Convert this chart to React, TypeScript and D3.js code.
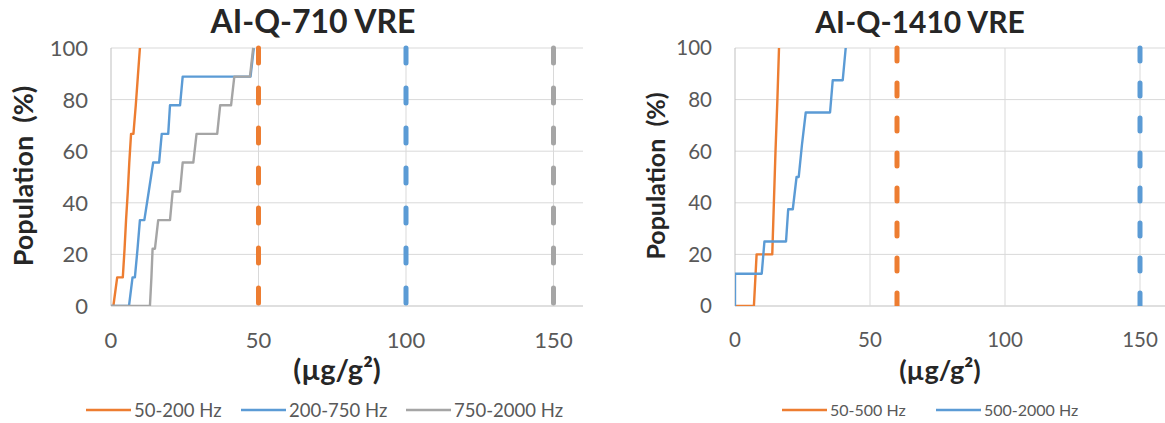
import React from 'react';
import * as d3 from 'd3';

// ---- data ----
const yTicks = [0, 20, 40, 60, 80, 100];
const xTicks = [0, 50, 100, 150];

// AI-Q-710 VRE
const leftTitle = 'AI-Q-710 VRE';
const leftSeriesNames = ['50-200 Hz', '200-750 Hz', '750-2000 Hz'];
const left50_200x = [0.8, 2.1, 4.0, 4.6, 5.1, 5.7, 6.2, 6.8, 7.6, 8.4, 9.1, 9.8];
const left50_200y = [0, 11.1, 11.1, 22.2, 33.3, 44.4, 55.6, 66.7, 66.7, 77.8, 88.9, 100];
const left200_750x = [0, 6.1, 7.3, 8.1, 9.0, 9.8, 11.3, 12.8, 14.3, 16.3, 17.2, 19.4, 20.0, 23.4, 24.3, 47.3, 48.4];
const left200_750y = [0, 0, 11.1, 11.1, 22.2, 33.3, 33.3, 44.4, 55.6, 55.6, 66.7, 66.7, 77.8, 77.8, 88.9, 88.9, 100];
const left750_2000x = [0, 13.2, 13.7, 14.1, 14.9, 16.0, 20.0, 20.9, 23.4, 24.3, 27.9, 29.0, 36.0, 37.0, 40.7, 41.8, 47.1, 48.2];
const left750_2000y = [0, 0, 11.1, 22.2, 22.2, 33.3, 33.3, 44.4, 44.4, 55.6, 55.6, 66.7, 66.7, 77.8, 77.8, 88.9, 88.9, 100];
const leftLimits = [50, 100, 150];

// AI-Q-1410 VRE
const rightTitle = 'AI-Q-1410 VRE';
const rightSeriesNames = ['50-500 Hz', '500-2000 Hz'];
const right50_500x = [0, 7.0, 8.0, 13.8, 14.4, 15.0, 15.7, 16.3];
const right50_500y = [0, 0, 20, 20, 40, 60, 80, 100];
const right500_2000x = [0, 0, 9.9, 10.9, 18.9, 19.7, 21.4, 22.8, 23.6, 24.8, 26.2, 35.2, 36.2, 39.9, 41.0];
const right500_2000y = [0, 12.5, 12.5, 25, 25, 37.5, 37.5, 50, 50, 62.5, 75, 75, 87.5, 87.5, 100];
const rightLimits = [60, 150];

const colors = ['#ED7D31', '#5B9BD5', '#A5A5A5'];
const FONT = 'Lato, "Open Sans", sans-serif';

type Pt = [number, number];
const zip = (xs: number[], ys: number[]): Pt[] => xs.map((x, i) => [x, ys[i]]);

interface PanelProps {
  title: string;
  names: string[];
  series: Pt[][];
  limits: number[];
  x0: number;
  x1: number;
  titleX: number;
  titleSize: number;
  tickSize: number;
  yLabelX: number;
  yLabelSize: number;
  xLabelX: number;
  xLabelSize: number;
  legendX: number[];
  legendSize: number;
  dash: string;
  dashFromTop: boolean;
}

function Panel(p: PanelProps) {
  const x = d3.scaleLinear().domain([0, 160]).range([p.x0, p.x1]);
  const y = d3.scaleLinear().domain([0, 100]).range([306, 48]);
  const line = d3.line<Pt>().x(d => x(d[0])).y(d => y(d[1]));
  const clipId = 'clip' + p.x0;

  return (
    <g>
      <defs>
        <clipPath id={clipId}>
          <rect x={p.x0} y={y(100) - 4} width={p.x1 - p.x0} height={y(0) - y(100) + 4} />
        </clipPath>
      </defs>
      <text x={p.titleX} y={33} textAnchor="middle" fontFamily={FONT} fontWeight={700}
        fontSize={p.titleSize} fill="#262626">{p.title}</text>

      {yTicks.map(t => (
        <line key={'h' + t} x1={p.x0} x2={p.x1} y1={y(t)} y2={y(t)}
          stroke={t === 0 ? '#BFBFBF' : '#D9D9D9'} strokeWidth={1} />
      ))}
      {xTicks.map(t => (
        <line key={'v' + t} x1={x(t)} x2={x(t)} y1={y(0)} y2={y(100)}
          stroke={t === 0 ? '#BFBFBF' : '#D9D9D9'} strokeWidth={1} />
      ))}

      {yTicks.map(t => (
        <text key={'yt' + t} x={p.x0 - 23} y={y(t)} dy="0.36em" textAnchor="end"
          fontFamily={FONT} fontSize={p.tickSize} fill="#595959">{t}</text>
      ))}
      {xTicks.map(t => (
        <text key={'xt' + t} x={x(t)} y={340} dy="0.36em" textAnchor="middle"
          fontFamily={FONT} fontSize={p.tickSize} fill="#595959">{t}</text>
      ))}

      <text transform={`translate(${p.yLabelX},176) rotate(-90)`} textAnchor="middle"
        dy="0.36em" fontFamily={FONT} fontWeight={700} fontSize={p.yLabelSize}
        fill="#262626" style={{ whiteSpace: 'pre' }}>{'Population  (%)'}</text>
      <text x={p.xLabelX} y={370} dy="0.36em" textAnchor="middle" fontFamily={FONT}
        fontWeight={700} fontSize={p.xLabelSize} fill="#262626">(µg/g²)</text>

      <g clipPath={`url(#${clipId})`}>
        {p.limits.map((v, i) => (
          <line key={'lim' + v}
            x1={x(v)} x2={x(v)}
            y1={p.dashFromTop ? y(100) : y(0)} y2={p.dashFromTop ? y(0) : y(100)}
            stroke={colors[i]} strokeWidth={5} strokeDasharray={p.dash} strokeLinecap="round" />
        ))}
        {p.series.map((s, i) => (
          <path key={'s' + i} d={line(s) || ''} fill="none" stroke={colors[i]}
            strokeWidth={2.4} strokeLinejoin="round" />
        ))}
      </g>

      {p.names.map((n, i) => (
        <g key={'lg' + n}>
          <line x1={p.legendX[i]} x2={p.legendX[i] + 45} y1={410} y2={410}
            stroke={colors[i]} strokeWidth={2.5} />
          <text x={p.legendX[i] + 48} y={410} dy="0.36em" fontFamily={FONT}
            fontSize={p.legendSize} fill="#595959">{n}</text>
        </g>
      ))}
    </g>
  );
}

export default function App() {
  return (
    <div style={{ position: 'absolute', left: 0, top: 0, background: '#fff' }}>
      <svg width={1165} height={423} style={{ display: 'block' }}>
        <rect width={1165} height={423} fill="#fff" />
        <Panel
          title={leftTitle}
          names={leftSeriesNames}
          series={[zip(left50_200x, left50_200y), zip(left200_750x, left200_750y), zip(left750_2000x, left750_2000y)]}
          limits={leftLimits}
          x0={111} x1={583}
          titleX={313} titleSize={32} tickSize={22}
          yLabelX={23} yLabelSize={27} xLabelX={337} xLabelSize={29}
          legendX={[86, 241, 406]} legendSize={18.5}
          dash="15,25" dashFromTop={true}
        />
        <Panel
          title={rightTitle}
          names={rightSeriesNames}
          series={[zip(right50_500x, right50_500y), zip(right500_2000x, right500_2000y)]}
          limits={rightLimits}
          x0={735} x1={1167}
          titleX={920} titleSize={30} tickSize={20.5}
          yLabelX={656} yLabelSize={25} xLabelX={940} xLabelSize={27}
          legendX={[782, 936]} legendSize={16}
          dash="13,22" dashFromTop={false}
        />
      </svg>
    </div>
  );
}
